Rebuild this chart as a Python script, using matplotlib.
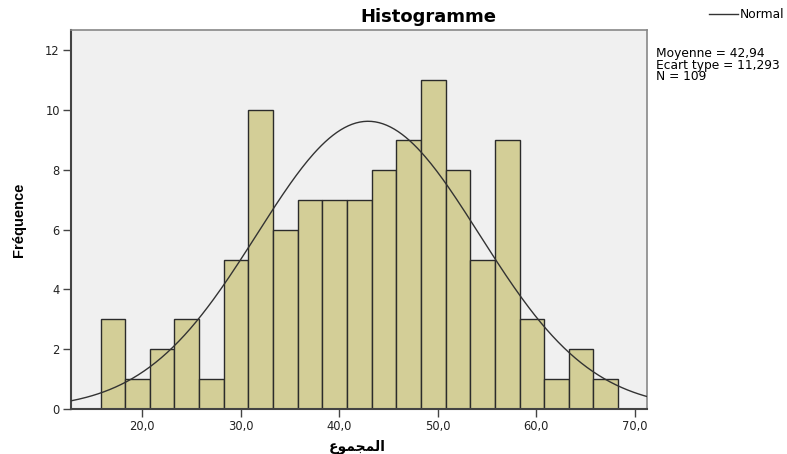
import numpy as np
import matplotlib.pyplot as plt

# histogram counts (21 bins, width 2.5)
counts = [3, 1, 2, 3, 1, 5, 10, 6, 7, 7, 7, 8, 9, 11, 8, 5, 9, 3, 1, 2, 1]
bin_start = 15.8
bin_width = 2.5
mean = 42.94
std = 11.293
n = 109

xticks = [20, 30, 40, 50, 60, 70]
yticks = [0, 2, 4, 6, 8, 10, 12]
# "المجموع" in presentation forms, visual order, since matplotlib doesn't shape Arabic
xlabel = "\uFEC9\uFEEE\uFEE4\uFEA0\uFEE4\uFEDF\uFE8D"

plt.rcParams['font.family'] = ['DejaVu Sans']

fig = plt.figure(figsize=(7.87, 4.54), dpi=100)
ax = fig.add_axes([0.0902, 0.0991, 0.7315, 0.8348])
ax.set_facecolor('#f0f0f0')

edges = bin_start + bin_width * np.arange(len(counts))
ax.bar(edges, counts, width=bin_width, align='edge', color='#d3ce97',
       edgecolor='#2b2b2b', linewidth=1.0, zorder=2)

xs = np.linspace(12.8, 71.2, 300)
ys = n * bin_width / (std * np.sqrt(2 * np.pi)) * np.exp(-0.5 * ((xs - mean) / std) ** 2)
ax.plot(xs, ys, color='#333333', linewidth=1.0, zorder=3)

ax.set_xlim(12.8, 71.2)
ax.set_ylim(0, 12.68)
ax.set_xticks(xticks)
ax.set_xticklabels([f"{t:.1f}".replace('.', ',') for t in xticks], fontsize=8.3, color='#222222')
ax.set_yticks(yticks)
ax.set_yticklabels([str(t) for t in yticks], fontsize=8.3, color='#222222')
ax.tick_params(length=6, width=1, color='#444444', pad=2)

for side in ['left', 'bottom']:
    ax.spines[side].set_color('#444444')
    ax.spines[side].set_linewidth(1.5)
for side in ['top', 'right']:
    ax.spines[side].set_color('#888888')
    ax.spines[side].set_linewidth(1.2)

ax.set_xlabel(xlabel, fontsize=10, fontweight='bold')
ax.xaxis.set_label_coords(0.498, -0.08)
ax.set_ylabel('Fréquence', family=['Liberation Sans'], fontsize=10.5, fontweight='bold')
ax.yaxis.set_label_coords(-0.078, 0.5)
fig.text(428 / 787, 1 - 17 / 454, 'Histogramme', fontsize=13, fontweight='bold',
         ha='center', va='center')

# legend and stats box on the right
fig.lines.append(plt.Line2D([709 / 787, 738 / 787], [1 - 14 / 454, 1 - 14 / 454],
                            transform=fig.transFigure, color='#333333', linewidth=1))
fig.text(740 / 787, 1 - 14 / 454, 'Normal', fontsize=8.8, va='center')
fig.text(656 / 787, 1 - 47 / 454, 'Moyenne = 42,94\nEcart type = 11,293\nN = 109',
         fontsize=8.8, va='top', linespacing=0.85)

fig.savefig('out.png', dpi=100)
